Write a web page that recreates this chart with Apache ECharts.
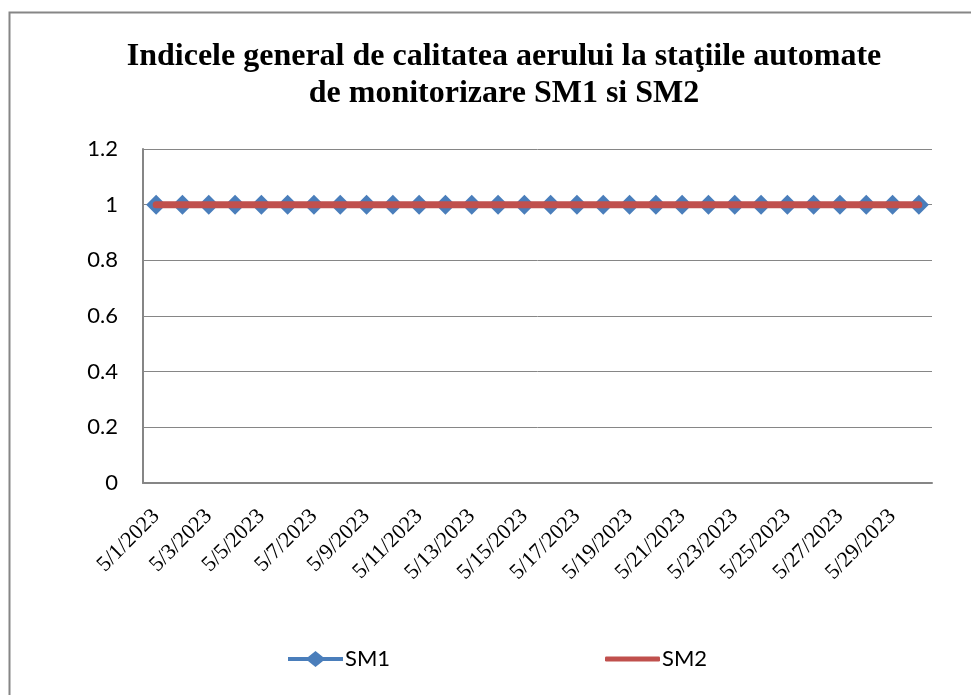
<!DOCTYPE html>
<html><head><meta charset="utf-8">
<script src="https://cdn.jsdelivr.net/npm/echarts@6/dist/echarts.min.js"></script>
<style>html,body{margin:0;padding:0;background:#fff}#c{width:971px;height:695px}</style>
</head><body><div id="c"></div>
<script>
var categories = ["5/1/2023","5/2/2023","5/3/2023","5/4/2023","5/5/2023","5/6/2023","5/7/2023","5/8/2023","5/9/2023","5/10/2023",
"5/11/2023","5/12/2023","5/13/2023","5/14/2023","5/15/2023","5/16/2023","5/17/2023","5/18/2023","5/19/2023","5/20/2023",
"5/21/2023","5/22/2023","5/23/2023","5/24/2023","5/25/2023","5/26/2023","5/27/2023","5/28/2023","5/29/2023","5/30/2023"];
var sm1 = [1,1,1,1,1,1,1,1,1,1,1,1,1,1,1,1,1,1,1,1,1,1,1,1,1,1,1,1,1,1];
var sm2 = [1,1,1,1,1,1,1,1,1,1,1,1,1,1,1,1,1,1,1,1,1,1,1,1,1,1,1,1,1,1];
var yTicks = [0, 0.2, 0.4, 0.6, 0.8, 1, 1.2];

var chart = echarts.init(document.getElementById('c'), null, {renderer:'canvas'});
chart.setOption({
  animation:false,
  backgroundColor:'#fff',
  graphic:[{type:'rect', shape:{x:9.5,y:12.5,width:1000,height:800}, style:{fill:'none',stroke:'#868686',lineWidth:2}, z:-1}],
  title:{
    text:'Indicele general de calitatea aerului la staţiile automate\nde monitorizare SM1 si SM2',
    left:499, top:33, textAlign:'center',
    textStyle:{fontFamily:'Liberation Serif', fontWeight:'bold', fontSize:32, lineHeight:37, color:'#000'}
  },
  legend:[{
    top:643, left:283, itemWidth:55, itemHeight:16,
    textStyle:{fontFamily:'Lato', fontSize:22, color:'#000', padding:[0,0,0,-3]},
    data:[{name:'SM1', icon:'path://M0,6 L20,6 L27.5,0 L35,6 L55,6 L55,10 L35,10 L27.5,16 L20,10 L0,10 Z', itemStyle:{color:'#4a7ebb'}}]
  },{
    top:643, left:600, itemWidth:55, itemHeight:5,
    textStyle:{fontFamily:'Lato', fontSize:22, color:'#000', padding:[0,0,0,-3]},
    data:[{name:'SM2', icon:'roundRect', itemStyle:{color:'#c0504d'}}]
  }],
  grid:{left:143, right:39, top:149, bottom:212, containLabel:false},
  xAxis:{
    type:'category', data:categories, boundaryGap:true,
    axisLine:{lineStyle:{color:'#868686', width:2}},
    axisTick:{show:false},
    axisLabel:{interval:1, rotate:45, margin:30, fontFamily:'Liberation Serif', fontSize:22, color:'#000'}
  },
  yAxis:{
    type:'value', min:0, max:1.2, interval:0.2,
    axisLine:{show:true, lineStyle:{color:'#868686', width:2}},
    axisTick:{show:false},
    splitLine:{lineStyle:{color:'#868686', width:1}},
    axisLabel:{margin:25, fontFamily:'Lato', fontSize:22, color:'#000',
      formatter:function(v){ var t = yTicks.filter(function(x){return Math.abs(x-v)<1e-9;}); return t.length? String(Math.round(v*10)/10) : ''; }}
  },
  series:[
    {name:'SM1', type:'line', data:sm1, symbol:'diamond', symbolSize:20, showAllSymbol:true,
     itemStyle:{color:'#4a7ebb'}, lineStyle:{color:'#4a7ebb', width:4}, z:2},
    {name:'SM2', type:'line', data:sm2, symbol:'none', showSymbol:false,
     itemStyle:{color:'#c0504d'}, lineStyle:{color:'#c0504d', width:7, cap:'round'}, z:3}
  ]
});
</script></body></html>
